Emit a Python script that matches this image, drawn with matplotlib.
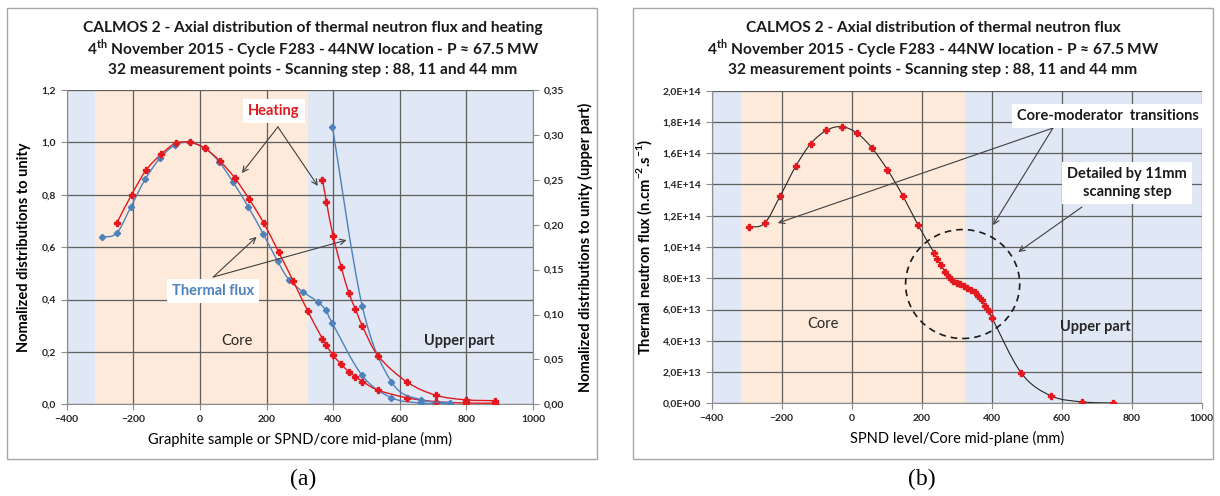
import matplotlib.pyplot as plt
import numpy as np
from matplotlib.path import Path
from matplotlib.patches import PathPatch, Ellipse, Rectangle
from matplotlib.ticker import FuncFormatter, MultipleLocator

plt.rcParams['font.family'] = ['Lato', 'DejaVu Sans']
plt.rcParams['mathtext.fontset'] = 'custom'
plt.rcParams['mathtext.rm'] = 'Lato'
plt.rcParams['mathtext.bf'] = 'Lato:bold'

# ---- (a) normalized distributions (left axis) ----
flux_a_x = [-295, -250, -207, -164, -119, -74, -30, 14, 57, 100, 145, 190, 233, 267,
            310, 354, 378, 398, 487, 575, 664, 752]
flux_a_y = [0.639, 0.653, 0.755, 0.860, 0.941, 0.990, 1.000, 0.978, 0.927, 0.847, 0.754,
            0.651, 0.547, 0.476, 0.429, 0.391, 0.359, 0.309, 0.110, 0.025, 0.005, 0.002]
heat_x = [-250, -205, -161, -117, -73, -30, 14, 59, 104, 148, 192, 236, 280, 324,
          368, 380, 400, 424, 447, 467, 488, 535, 621, 709, 798, 887]
heat_y = [0.691, 0.801, 0.895, 0.954, 0.997, 1.000, 0.978, 0.930, 0.865, 0.783, 0.691,
          0.582, 0.471, 0.355, 0.250, 0.225, 0.187, 0.153, 0.124, 0.106, 0.087, 0.054,
          0.025, 0.010, 0.005, 0.004]
# first index used again on the right axis ("upper part")
flux_upper_from = 17
heat_upper_from = 14

# ---- (b) SPND thermal neutron flux ----
spnd_x = [-293, -249, -204, -160, -117, -72, -29, 15, 58, 102, 146, 189,
          235, 245, 255, 267, 279, 289, 300, 310, 321, 330, 341, 351, 361, 371, 381, 391, 401,
          485, 570, 659, 747]
spnd_flux = [1.128e14, 1.151e14, 1.328e14, 1.516e14, 1.661e14, 1.746e14, 1.770e14, 1.729e14,
             1.633e14, 1.495e14, 1.328e14, 1.143e14,
             0.964e14, 0.921e14, 0.883e14, 0.842e14, 0.810e14, 0.784e14, 0.772e14, 0.761e14,
             0.750e14, 0.738e14, 0.725e14, 0.710e14, 0.687e14, 0.659e14, 0.623e14, 0.589e14,
             0.546e14,
             0.192e14, 0.047e14, 0.009e14, 0.002e14]

core_lo, core_hi = -315, 325

BLUE = '#4f81bd'
RED = '#e3191f'
LBLUE = '#dfe8f4'
PEACH = '#fdeada'
GRID = '#5f5f5f'
ARROW = '#404040'


def smooth_path(x, y):
    # excel-like smoothed line: bezier through the points
    pts = np.column_stack([x, y]).astype(float)
    n = len(pts)
    verts = [pts[0]]
    codes = [Path.MOVETO]
    for i in range(n - 1):
        p0 = pts[i - 1] if i > 0 else pts[i]
        p1 = pts[i]
        p2 = pts[i + 1]
        p3 = pts[i + 2] if i + 2 < n else pts[i + 1]
        verts += [p1 + (p2 - p0) / 6, p2 - (p3 - p1) / 6, p2]
        codes += [Path.CURVE4] * 3
    return Path(verts, codes)


def draw_series(ax, x, y, color, lcolor, marker, ms):
    ax.add_patch(PathPatch(smooth_path(x, y), fill=False, edgecolor=lcolor, lw=1.0, zorder=3))
    ax.plot(x, y, ls='none', marker=marker, ms=ms, color=color, mec=color, zorder=4)


def style_axes(ax):
    ax.set_xlim(-400, 1000)
    ax.xaxis.set_major_locator(MultipleLocator(200))
    ax.axvspan(-400, core_lo, color=LBLUE, zorder=0.1, lw=0)
    ax.axvspan(core_lo, core_hi, color=PEACH, zorder=0.1, lw=0)
    ax.axvspan(core_hi, 1000, color=LBLUE, zorder=0.1, lw=0)
    ax.grid(True, color=GRID, lw=0.9, zorder=0.5)
    for s in ['top', 'right']:
        ax.spines[s].set_visible(False)
    for s in ['left', 'bottom']:
        ax.spines[s].set_color('#8c8c8c')
    ax.tick_params(labelsize=7.5, colors='#8c8c8c', labelcolor='#262626', length=4, width=0.8)
    for lab in ax.get_xticklabels() + ax.get_yticklabels():
        lab.set_fontweight('bold')


fig = plt.figure(figsize=(12.2, 4.96), dpi=100)

# panel frames
fig.add_artist(Rectangle((7 / 1220, 1 - 459 / 496), 590 / 1220, 451 / 496, transform=fig.transFigure,
                         fill=False, edgecolor='#a6a6a6', lw=1))
fig.add_artist(Rectangle((633 / 1220, 1 - 459 / 496), 580 / 1220, 451 / 496, transform=fig.transFigure,
                         fill=False, edgecolor='#a6a6a6', lw=1))

# ================= (a) =================
ax = fig.add_axes([66.7 / 1220, 1 - 404.3 / 496, 466.3 / 1220, 314.3 / 496])
ax.set_ylim(0, 1.2)
ax.yaxis.set_major_locator(MultipleLocator(0.2))
ax.yaxis.set_major_formatter(FuncFormatter(lambda v, p: f"{v:.1f}".replace('.', ',')))
style_axes(ax)

ax2 = ax.twinx()
ax2.set_ylim(0, 0.35)
ax2.yaxis.set_major_locator(MultipleLocator(0.05))
ax2.yaxis.set_major_formatter(FuncFormatter(lambda v, p: f"{v:.2f}".replace('.', ',')))
for s in ['top', 'left', 'bottom']:
    ax2.spines[s].set_visible(False)
ax2.spines['right'].set_color('#8c8c8c')
ax2.tick_params(labelsize=7.5, colors='#8c8c8c', labelcolor='#262626', length=4, width=0.8)
for lab in ax2.get_yticklabels():
    lab.set_fontweight('bold')

draw_series(ax, flux_a_x, flux_a_y, BLUE, BLUE, 'D', 3.2)
draw_series(ax, heat_x, heat_y, RED, RED, 'P', 4.2)
draw_series(ax2, flux_a_x[flux_upper_from:], flux_a_y[flux_upper_from:], BLUE, BLUE, 'D', 3.2)
draw_series(ax2, heat_x[heat_upper_from:], heat_y[heat_upper_from:], RED, RED, 'P', 4.2)

ax.set_xlabel("Graphite sample or SPND/core mid-plane (mm)", fontsize=10.5, labelpad=6)
ax.set_ylabel("Nomalized distributions to unity", fontsize=10.5, fontweight='bold', labelpad=8)
ax2.set_ylabel("Nomalized distributions to unity (upper part)", fontsize=10.5, fontweight='bold',
               labelpad=10)

ax.text(111, 0.242, "Core", fontsize=10.5, ha='center', va='center', color='#262626', zorder=5)
ax.text(780, 0.242, "Upper part", fontsize=10.5, fontweight='bold', ha='center', va='center',
        color='#262626', zorder=5)

arr = dict(arrowstyle='->', color=ARROW, lw=0.8, shrinkA=0, shrinkB=0)
for head in [(126, 0.883), (354, 0.834)]:
    ax.annotate("", xy=head, xytext=(234, 1.059), arrowprops=arr, zorder=5)
for head in [(170, 0.639), (440, 0.627)]:
    ax.annotate("", xy=head, xytext=(40, 0.486), arrowprops=arr, zorder=5)
box = dict(boxstyle='square,pad=0.35', fc='white', ec='none')
ax.text(222, 1.12, "Heating", fontsize=10.5, fontweight='bold', color=RED, ha='center', va='center',
        bbox=box, zorder=6)
ax.text(40, 0.433, "Thermal flux", fontsize=10.5, fontweight='bold', color=BLUE, ha='center',
        va='center', bbox=box, zorder=6)

title_a = ["CALMOS 2 - Axial distribution of thermal neutron flux and heating",
           r"4$^{\mathbf{th}}$ November 2015 - Cycle F283 - 44NW location - P ≈ 67.5 MW",
           "32 measurement points - Scanning step : 88, 11 and 44 mm"]
for i, line in enumerate(title_a):
    fig.text(313 / 1220, 1 - (28 + 21 * i) / 496, line, fontsize=11.2, fontweight='bold',
             ha='center', va='center', color='#1a1a1a')

# ================= (b) =================
bx = fig.add_axes([711.7 / 1220, 1 - 403.3 / 496, 490 / 1220, 312.6 / 496])
bx.set_ylim(0, 2.0e14)
bx.yaxis.set_major_locator(MultipleLocator(2.0e13))
bx.yaxis.set_major_formatter(FuncFormatter(lambda v, p: f"{v:.1E}".replace('.', ',')))
style_axes(bx)

bx.add_patch(PathPatch(smooth_path(spnd_x, spnd_flux), fill=False, edgecolor='#262626', lw=0.8,
                       zorder=3))
bx.plot(spnd_x, spnd_flux, ls='none', marker='P', ms=4, color=RED, zorder=4)

bx.add_patch(Ellipse((317, 0.763e14), 326, 0.697e14, fill=False, edgecolor='#1a1a1a', lw=1.2,
                     ls=(0, (4, 3)), zorder=5))

bx.set_xlabel("SPND level/Core mid-plane (mm)", fontsize=10.5, labelpad=6)
bx.set_ylabel(r"Thermal neutron flux (n.cm$^{\mathbf{-2}}$.s$^{\mathbf{-1}}$)", fontsize=10.5,
              fontweight='bold', labelpad=6)

bx.text(-82, 0.508e14, "Core", fontsize=10.5, ha='center', va='center', color='#262626', zorder=5)
bx.text(695, 0.49e14, "Upper part", fontsize=10.5, fontweight='bold', ha='center', va='center',
        color='#262626', zorder=5)

for head in [(-211, 1.153e14), (404, 1.14e14)]:
    bx.annotate("", xy=head, xytext=(575, 1.761e14), arrowprops=arr, zorder=5)
bx.annotate("", xy=(476, 0.968e14), xytext=(658, 1.256e14), arrowprops=arr, zorder=5)
bx.text(732, 1.838e14, "Core-moderator  transitions", fontsize=10.5, fontweight='bold',
        color='#1a1a1a', ha='center', va='center', bbox=box, zorder=6)
bx.text(787, 1.41e14, "Detailed by 11mm\nscanning step", fontsize=10.5, fontweight='bold',
        color='#1a1a1a', ha='center', va='center', linespacing=1.4, bbox=box, zorder=6)

title_b = ["CALMOS 2 - Axial distribution of thermal neutron flux",
           r"4$^{\mathbf{th}}$ November 2015 - Cycle F283 - 44NW location - P ≈ 67.5 MW",
           "32 measurement points - Scanning step : 88, 11 and 44 mm"]
for i, line in enumerate(title_b):
    fig.text(933 / 1220, 1 - (28 + 21 * i) / 496, line, fontsize=11.2, fontweight='bold',
             ha='center', va='center', color='#1a1a1a')

fig.text(303 / 1220, 1 - 479 / 496, "(a)", fontsize=17, family='Liberation Serif', ha='center',
         va='center')
fig.text(922 / 1220, 1 - 479 / 496, "(b)", fontsize=17, family='Liberation Serif', ha='center',
         va='center')

fig.savefig("out.png", dpi=100)
